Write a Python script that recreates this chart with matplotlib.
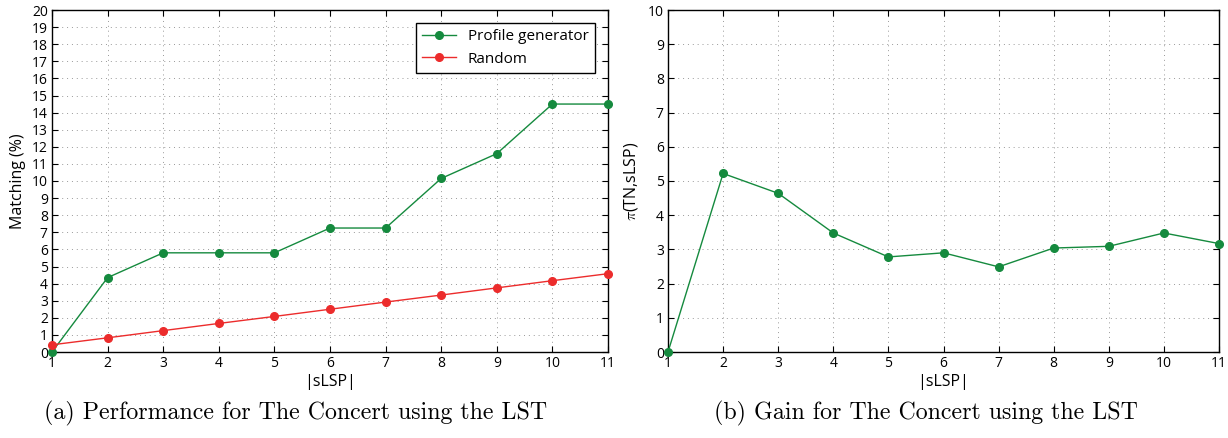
import matplotlib
matplotlib.use("Agg")
import matplotlib.pyplot as plt
import numpy as np

x = [1, 2, 3, 4, 5, 6, 7, 8, 9, 10, 11]
profile_gen = [0.0, 4.35, 5.8, 5.8, 5.8, 7.25, 7.25, 10.15, 11.6, 14.5, 14.5]
random_vals = [0.42, 0.83, 1.25, 1.67, 2.08, 2.5, 2.92, 3.33, 3.75, 4.17, 4.58]
gain = [0.0, 5.22, 4.64, 3.48, 2.78, 2.90, 2.49, 3.04, 3.09, 3.48, 3.17]

GREEN = "#158a3e"
RED = "#ec2c2c"

plt.rcParams['font.family'] = ['Open Sans', 'DejaVu Sans']
plt.rcParams['mathtext.fontset'] = 'cm'

fig = plt.figure(figsize=(12.28, 4.38), dpi=100)
W, H = 1228, 438
ax1 = fig.add_axes([52 / W, 1 - 352 / H, (608 - 52) / W, (352 - 10) / H])
ax2 = fig.add_axes([668 / W, 1 - 352 / H, (1219 - 668) / W, (352 - 10) / H])

def style(ax, ymax):
    ax.set_xlim(1, 11)
    ax.set_ylim(0, ymax)
    ax.set_xticks(x)
    ax.set_yticks(range(0, ymax + 1))
    ax.tick_params(direction='in', top=True, right=True, labelsize=10,
                   length=4, width=0.8, pad=3)
    ax.grid(True, linestyle=(0, (1, 4)), color='#999999', linewidth=0.7)
    for s in ax.spines.values():
        s.set_linewidth(1.0)
        s.set_color('black')
    ax.set_xlabel('|sLSP|', fontsize=11.5, labelpad=2)

ax1.plot(x, profile_gen, '-o', color=GREEN, markersize=5.5, linewidth=1.0,
         label='Profile generator', clip_on=False, zorder=3)
ax1.plot(x, random_vals, '-o', color=RED, markersize=5.5, linewidth=1.0,
         label='Random', clip_on=False, zorder=3)
style(ax1, 20)
ax1.set_ylabel('Matching (%)', fontsize=11.5, labelpad=4)
leg = ax1.legend(loc='upper right', fontsize=11, fancybox=False,
                 edgecolor='black', framealpha=1, borderpad=0.4,
                 handlelength=2.2, bbox_to_anchor=(0.99, 0.985))
leg.get_frame().set_linewidth(1.0)

ax2.plot(x, gain, '-o', color=GREEN, markersize=5.5, linewidth=1.0,
         clip_on=False, zorder=3)
style(ax2, 10)
ax2.set_ylabel(r'$\pi$(TN,sLSP)', fontsize=11.5, labelpad=6)

fig.text(296 / W, 1 - 413 / H,
         '(a) Performance for The Concert using the LST',
         ha='center', va='center', fontsize=17.2, family='cmr10')
fig.text(926 / W, 1 - 413 / H,
         '(b) Gain for The Concert using the LST',
         ha='center', va='center', fontsize=17.2, family='cmr10')

fig.savefig('out.png', dpi=100)
